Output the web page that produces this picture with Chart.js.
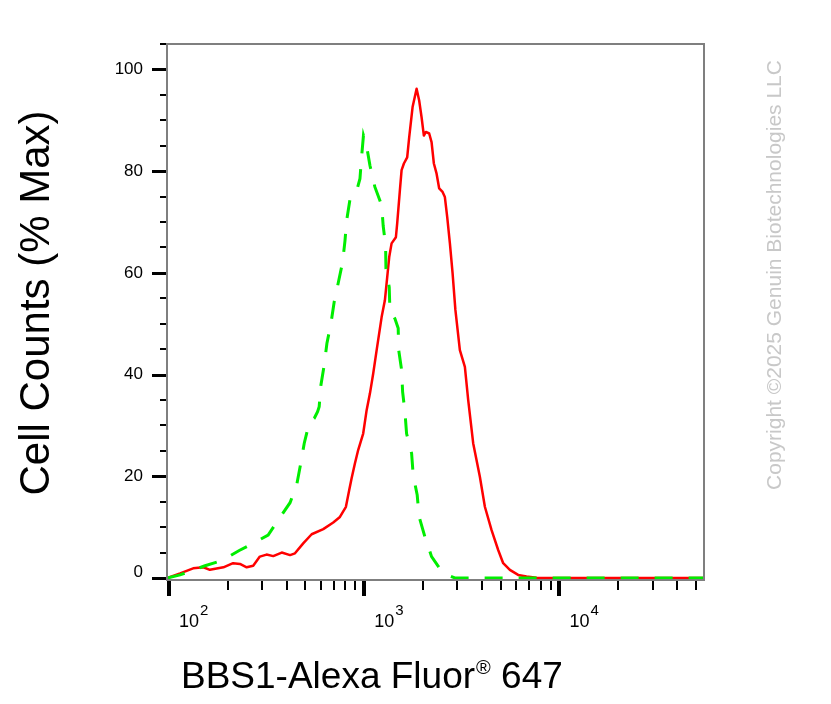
<!DOCTYPE html>
<html>
<head>
<meta charset="utf-8">
<script src="https://cdn.jsdelivr.net/npm/chart.js@4.4.0/dist/chart.umd.min.js"></script>
<style>
  html, body { margin: 0; padding: 0; background: #fff; }
  canvas { display: block; }
</style>
</head>
<body>
<canvas id="chart" width="831" height="704"></canvas>
<script>
/* DATA */
// BBS1 stained sample (red, solid)
const redX = [98, 114, 133, 150, 162, 190, 213, 231, 250, 270, 292, 316, 342, 378, 417, 442, 487, 538, 617, 694,
  751, 806, 838, 862, 896, 932, 988, 1029, 1070, 1112, 1158, 1228, 1276, 1312, 1343, 1381, 1453, 1475, 1523, 1554,
  1597, 1660, 1700, 1769, 1855, 1912, 1967, 2021, 2070, 2152, 2213, 2274, 2348, 2421, 2520, 2589, 2661, 2747, 2836, 2931,
  3090, 3278, 3408, 3615, 3912, 4150, 4491, 4855, 5150, 5572, 6144, 6783, 7633, 55000];
const redY = [0, 0.9, 1.9, 2.1, 1.6, 2.1, 2.9, 2.75, 2.1, 2.4, 4.2, 4.6, 4.3, 5.0, 4.5, 4.85, 6.8, 8.6, 9.6, 10.9,
  12.0, 14.0, 17.3, 19.6, 22.5, 25.2, 28.4, 33.0, 36.3, 40.2, 44.8, 51.3, 54.6, 59.2, 63.1, 65.8, 67.0, 69.7, 76.2, 80.2,
  81.5, 82.7, 86.7, 92.6, 96.2, 93.9, 90.6, 87.0, 87.7, 87.4, 85.7, 81.5, 79.5, 76.6, 75.9, 74.9, 71.0, 65.8, 59.9, 52.7,
  44.8, 41.5, 35.0, 26.5, 19.9, 14.0, 9.4, 5.5, 2.9, 1.6, 0.6, 0.3, 0.05, 0];

// control (green, dashed)
const greenX = [98, 114, 153, 186, 229, 276, 322, 363, 417, 451, 474, 493, 523, 555, 577, 588, 600, 624, 644, 675,
  702, 736, 775, 797, 813, 845, 907, 951, 970, 991, 1029, 1070, 1134, 1228, 1251, 1287, 1292, 1343, 1354, 1436,
  1493, 1502, 1554, 1573, 1616, 1648, 1749, 1782, 1868, 1912, 2045, 2213, 2539, 2913, 55000];
const greenY = [0, 0.6, 2.4, 3.4, 5.4, 7.0, 8.45, 11.4, 14.8, 18.3, 22.7, 26.5, 30.5, 31.4, 32.7, 33.7, 37.9, 41.9, 46.1, 50.0,
  54.3, 58.0, 62.1, 66.3, 70.3, 74.4, 75.6, 78.5, 82.9, 87.0, 84.9, 81.1, 76.9, 73.3, 69.2, 65.4, 60.8, 57.2, 52.7, 51.0,
  49.1, 44.8, 40.9, 36.6, 32.7, 28.4, 24.5, 20.2, 16.3, 12.0, 8.1, 4.2, 0.9, 0, 0];

/* axes */
const X_MIN = 97.7, X_MAX = 55000;
const Y_MIN = -0.4, Y_MAX = 105;
const xMajorTicks = [100, 1000, 10000];
const xTickExponents = ['2', '3', '4'];
const xMinorTicks = [200, 300, 400, 500, 600, 700, 800, 900,
  2000, 3000, 4000, 5000, 6000, 7000, 8000, 9000, 20000, 30000, 40000, 50000];
const yMajorTicks = [0, 20, 40, 60, 80, 100];
const yTickLabels = ['0', '20', '40', '60', '80', '100'];
const yMinorTicks = [5, 10, 15, 25, 30, 35, 45, 50, 55, 65, 70, 75, 85, 90, 95, 105];

const xTitle = 'BBS1-Alexa Fluor';
const xTitleMark = '\u00AE';
const xTitleEnd = ' 647';
const yTitle = 'Cell Counts (% Max)';
const watermark = 'Copyright \u00A92025 Genuin Biotechnologies LLC';

const FONT = '"Liberation Sans", Arial, sans-serif';

const toPts = (xs, ys) => xs.map((x, i) => ({ x, y: ys[i] }));

/* frame, ticks and text drawn off the chart scales */
const flowAxes = {
  id: 'flowAxes',
  afterDatasetsDraw(chart) {
    const { ctx, chartArea: a } = chart;
    const xs = chart.scales.x, ys = chart.scales.y;
    ctx.save();

    // box
    ctx.strokeStyle = '#7f7f7f';
    ctx.lineWidth = 2;
    ctx.strokeRect(a.left, a.top, a.right - a.left, a.bottom - a.top);

    // y ticks
    ctx.strokeStyle = '#000';
    ctx.lineWidth = 2;
    yMinorTicks.forEach(v => {
      const py = Math.round(ys.getPixelForValue(v));
      ctx.beginPath(); ctx.moveTo(a.left - 7, py); ctx.lineTo(a.left - 1, py); ctx.stroke();
    });
    ctx.lineWidth = 3;
    yMajorTicks.forEach(v => {
      const py = Math.round(ys.getPixelForValue(v)) + 0.5;
      ctx.beginPath(); ctx.moveTo(a.left - 15, py); ctx.lineTo(a.left - 1, py); ctx.stroke();
    });

    // x ticks
    ctx.lineWidth = 2;
    xMinorTicks.forEach(v => {
      const px = Math.round(xs.getPixelForValue(v));
      ctx.beginPath(); ctx.moveTo(px, a.bottom + 1); ctx.lineTo(px, a.bottom + 10); ctx.stroke();
    });
    ctx.lineWidth = 4;
    xMajorTicks.forEach(v => {
      const px = Math.round(xs.getPixelForValue(v));
      ctx.beginPath(); ctx.moveTo(px, a.bottom + 1); ctx.lineTo(px, a.bottom + 16); ctx.stroke();
    });

    // y tick labels
    ctx.fillStyle = '#000';
    ctx.font = '17px ' + FONT;
    ctx.textAlign = 'right';
    ctx.textBaseline = 'middle';
    yMajorTicks.forEach((v, i) => {
      const py = ys.getPixelForValue(v) + (v === 0 ? -6 : 0);
      ctx.fillText(yTickLabels[i], a.left - 24, py);
    });

    // x tick labels: 10 with raised exponent
    ctx.textAlign = 'left';
    ctx.textBaseline = 'alphabetic';
    xMajorTicks.forEach((v, i) => {
      const px = xs.getPixelForValue(v) + 10;
      ctx.font = '18px ' + FONT;
      ctx.fillText('10', px, a.bottom + 47);
      const w = ctx.measureText('10').width;
      ctx.font = '15px ' + FONT;
      ctx.fillText(xTickExponents[i], px + w + 1, a.bottom + 35);
    });

    // x title
    ctx.font = '37px ' + FONT;
    let tx = 181;
    const ty = 688;
    ctx.fillText(xTitle, tx, ty);
    tx += ctx.measureText(xTitle).width + 1;
    ctx.font = '20px ' + FONT;
    ctx.fillText(xTitleMark, tx, ty - 14);
    tx += ctx.measureText(xTitleMark).width;
    ctx.font = '37px ' + FONT;
    ctx.fillText(xTitleEnd, tx, ty);

    // y title
    ctx.save();
    ctx.translate(37, 303);
    ctx.rotate(-Math.PI / 2);
    ctx.textAlign = 'center';
    ctx.textBaseline = 'middle';
    ctx.font = '42px ' + FONT;
    ctx.fillText(yTitle, 0, 0);
    ctx.restore();

    // watermark
    ctx.save();
    ctx.translate(775, 275);
    ctx.rotate(-Math.PI / 2);
    ctx.textAlign = 'center';
    ctx.textBaseline = 'middle';
    ctx.font = '21px ' + FONT;
    ctx.fillStyle = '#c8c8c8';
    ctx.fillText(watermark, 0, 0);
    ctx.restore();

    ctx.restore();
  }
};

new Chart(document.getElementById('chart'), {
  type: 'line',
  data: {
    datasets: [
      {
        label: 'Control',
        data: toPts(greenX, greenY),
        borderColor: '#00ee00',
        borderWidth: 3,
        borderDash: [18, 16],
        pointRadius: 0,
        fill: false,
        tension: 0
      },
      {
        label: 'BBS1',
        data: toPts(redX, redY),
        borderColor: '#ff0000',
        borderWidth: 2.5,
        borderJoinStyle: 'round',
        pointRadius: 0,
        fill: false,
        tension: 0
      }
    ]
  },
  options: {
    responsive: false,
    devicePixelRatio: 1,
    animation: false,
    layout: { padding: { left: 167, top: 44, right: 127, bottom: 124 } },
    plugins: { legend: { display: false }, tooltip: { enabled: false } },
    scales: {
      x: { type: 'logarithmic', min: X_MIN, max: X_MAX, display: false },
      y: { type: 'linear', min: Y_MIN, max: Y_MAX, display: false }
    }
  },
  plugins: [flowAxes]
});
</script>
</body>
</html>
